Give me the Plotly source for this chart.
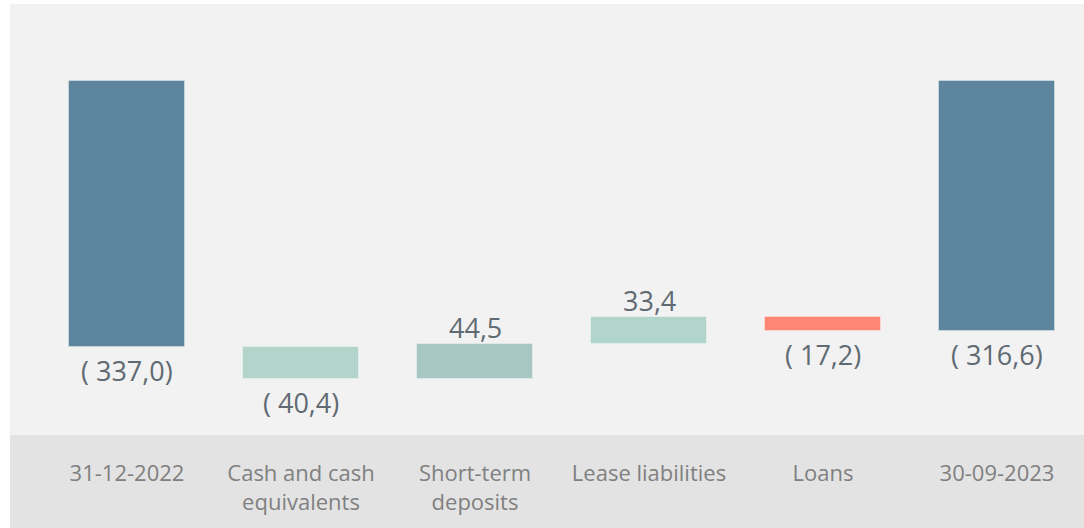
import plotly.graph_objects as go

categories = ["31-12-2022", "Cash and cash<br>equivalents", "Short-term<br>deposits",
              "Lease liabilities", "Loans", "30-09-2023"]
values = [-337.0, -40.4, 44.5, 33.4, -17.2, -316.6]
measures = ["total", "relative", "relative", "relative", "relative", "total"]
colors = ["#5d869e", "#b2d4cb", "#a7c7c4", "#b1d4cb", "#ff8673", "#5d869e"]

# compute bases for a waterfall built from bars
bases = []
running = 0.0
for v, m in zip(values, measures):
    if m == "total":
        bases.append(0.0)
        running = v
    else:
        bases.append(running)
        running += v

def fmt(v):
    s = f"{abs(v):.1f}".replace(".", ",")
    return f"( {s})" if v < 0 else s

labels = [fmt(v) for v in values]
xs = list(range(len(categories)))

fig = go.Figure()
fig.add_trace(go.Bar(
    x=xs, y=values, base=bases,
    marker=dict(color=colors, line=dict(color="rgba(255,255,255,0.35)", width=1)),
    width=0.667,
    hoverinfo="skip",
))

for x, b, v, t in zip(xs, bases, values, labels):
    end = b + v
    neg = v < 0
    fig.add_annotation(
        x=x, y=end, text=t, showarrow=False,
        yanchor="top" if neg else "bottom",
        yshift=-3 if neg else -4,
        font=dict(family="Open Sans", size=27, color="#5f6a72"),
    )

fig.add_shape(type="rect", xref="paper", yref="paper", x0=0, x1=1,
              y0=-93 / 431, y1=0, fillcolor="#e3e3e3", line_width=0, layer="below")

fig.update_layout(
    width=1084, height=528,
    margin=dict(l=10, r=0, t=4, b=93),
    paper_bgcolor="white",
    plot_bgcolor="#f2f2f2",
    showlegend=False,
    bargap=0,
    xaxis=dict(range=[-0.5 - 30 / 174, 5.5], tickvals=xs, ticktext=categories,
               showgrid=False, zeroline=False, showline=False, ticks="",
               ticklabelstandoff=23,
               tickfont=dict(family="Open Sans", size=22, color="#808080")),
    yaxis=dict(range=[-448.5, 97.6], showgrid=False, zeroline=False,
               showticklabels=False, showline=False, ticks=""),
    font=dict(family="Open Sans"),
)

fig.write_html("out.html", config={"displayModeBar": False},
               post_script="document.body.style.margin='0px';")
